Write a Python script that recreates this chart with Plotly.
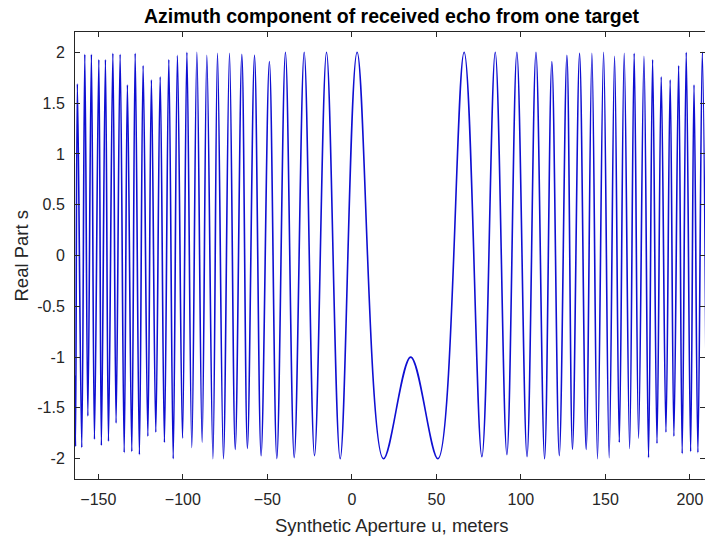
import plotly.graph_objects as go

# Extrema of the real part (u in meters, value)
u_points = [
    -164.0, -163.5, -162.4, -159.8, -158.0, -156.2, -154.1, -152.3, -149.7, -148.2,
    -145.8, -144.0, -141.4, -139.5, -137.1, -134.7, -132.8, -130.2, -128.2, -125.7,
    -123.5, -120.7, -118.6, -116.0, -113.4, -110.9, -108.3, -105.7, -103.2, -100.2,
    -97.6, -94.7, -91.7, -88.6, -85.8, -82.2, -79.5, -76.0, -72.4, -69.0,
    -65.1, -61.8, -57.6, -53.7, -48.8, -44.4, -39.3, -34.1, -28.2, -22.1,
    -15.0, -6.9, 3.1, 18.7, 34.8, 50.9, 66.4, 76.9, 84.8, 91.7,
    97.6, 103.6, 108.9, 114.0, 118.3, 122.7, 127.2, 130.5, 134.7, 138.6,
    142.0, 145.3, 148.9, 152.2, 155.4, 158.2, 161.1, 164.3, 167.0, 169.6,
    172.8, 175.5, 177.9, 180.5, 183.0, 185.8, 188.3, 190.5, 193.3, 195.4,
    197.8, 200.4, 202.4, 204.7, 207.3, 209.8,
]
real_part = [
    -1.18, -1.88, 1.69, -1.89, 1.98, -1.58, 1.98, -1.81, 1.93, -1.87,
    1.93, -1.83, 1.99, -1.65, 1.98, -1.94, 1.68, -1.93, 1.99, -1.96,
    1.87, -1.78, 1.73, -1.74, 1.76, -1.84, 1.93, -2.00, 1.97, -1.80,
    2.00, -1.89, 2.00, -1.84, 1.97, -2.00, 1.99, -2.00, 1.99, -1.91,
    1.98, -1.90, 1.97, -1.97, 1.91, -2.00, 2.00, -1.99, 2.00, -1.97,
    2.00, -2.00, 2.00, -2.00, -1.00, -2.00, 2.00, -1.98, 2.00, -1.96,
    2.00, -1.98, 2.00, -2.00, 1.91, -1.97, 1.97, -1.91, 1.99, -1.91,
    1.99, -2.00, 2.00, -1.99, 1.96, -1.84, 1.99, -1.90, 1.99, -1.80,
    1.96, -1.99, 1.93, -1.85, 1.76, -1.74, 1.73, -1.78, 1.87, -1.95,
    2.00, -1.93, 1.68, -1.94, 2.00, -1.90,
]

x_ticks = [-150, -100, -50, 0, 50, 100, 150, 200]
y_ticks = [-2, -1.5, -1, -0.5, 0, 0.5, 1, 1.5, 2]
y_tick_text = ["-2", "-1.5", "-1", "-0.5", "0", "0.5", "1", "1.5", "2"]

title_text = "Azimuth component of received echo from one target"
x_label = "Synthetic Aperture u, meters"
y_label = "Real Part s"

axis_color = "rgb(38,38,38)"
font_family = "Liberation Sans, Arial, sans-serif"

L, T, B = 75, 32, 57
plot_w = 705 - L

fig = go.Figure()
fig.add_trace(go.Scatter(
    x=u_points, y=real_part, mode="lines",
    line=dict(color="rgb(15,15,210)", width=1.6, shape="spline", smoothing=1.0),
    showlegend=False, hoverinfo="skip",
))

axis_common = dict(
    showgrid=False, zeroline=False, showline=True, linecolor=axis_color, linewidth=1,
    mirror="ticks", ticks="inside", ticklen=5, tickwidth=1, tickcolor=axis_color,
    tickfont=dict(family=font_family, size=16, color=axis_color), automargin=False,
)

fig.update_xaxes(range=[-163.8, 208.9], tickvals=x_ticks, ticklabelstandoff=6, **axis_common)
fig.update_yaxes(range=[-2.2, 2.2], tickvals=y_ticks, ticktext=y_tick_text,
                 ticklabelstandoff=6, **axis_common)

fig.update_layout(
    width=705, height=536,
    margin=dict(l=L, r=0, t=T, b=B, autoexpand=False),
    paper_bgcolor="white", plot_bgcolor="white",
    font=dict(family=font_family, color=axis_color),
    title=dict(text="<b>" + title_text + "</b>", x=391.5 / 705, xref="container",
               y=1 - 16 / 536, yref="container", yanchor="middle", xanchor="center",
               font=dict(family=font_family, size=19.5, color="black")),
    annotations=[
        dict(text=x_label, xref="paper", yref="paper", x=(391 - L) / plot_w,
             y=-(525 - 479) / 447,
             xanchor="center", yanchor="middle", showarrow=False,
             font=dict(family=font_family, size=18.5, color=axis_color)),
        dict(text=y_label, xref="paper", yref="paper", x=(21 - L) / plot_w, y=0.5,
             xanchor="center", yanchor="middle", showarrow=False, textangle=-90,
             font=dict(family=font_family, size=18.5, color=axis_color)),
    ],
)

fig.write_html("out.html", config={"displayModeBar": False},
               post_script="document.body.style.margin='0';document.body.style.overflow='hidden';")
